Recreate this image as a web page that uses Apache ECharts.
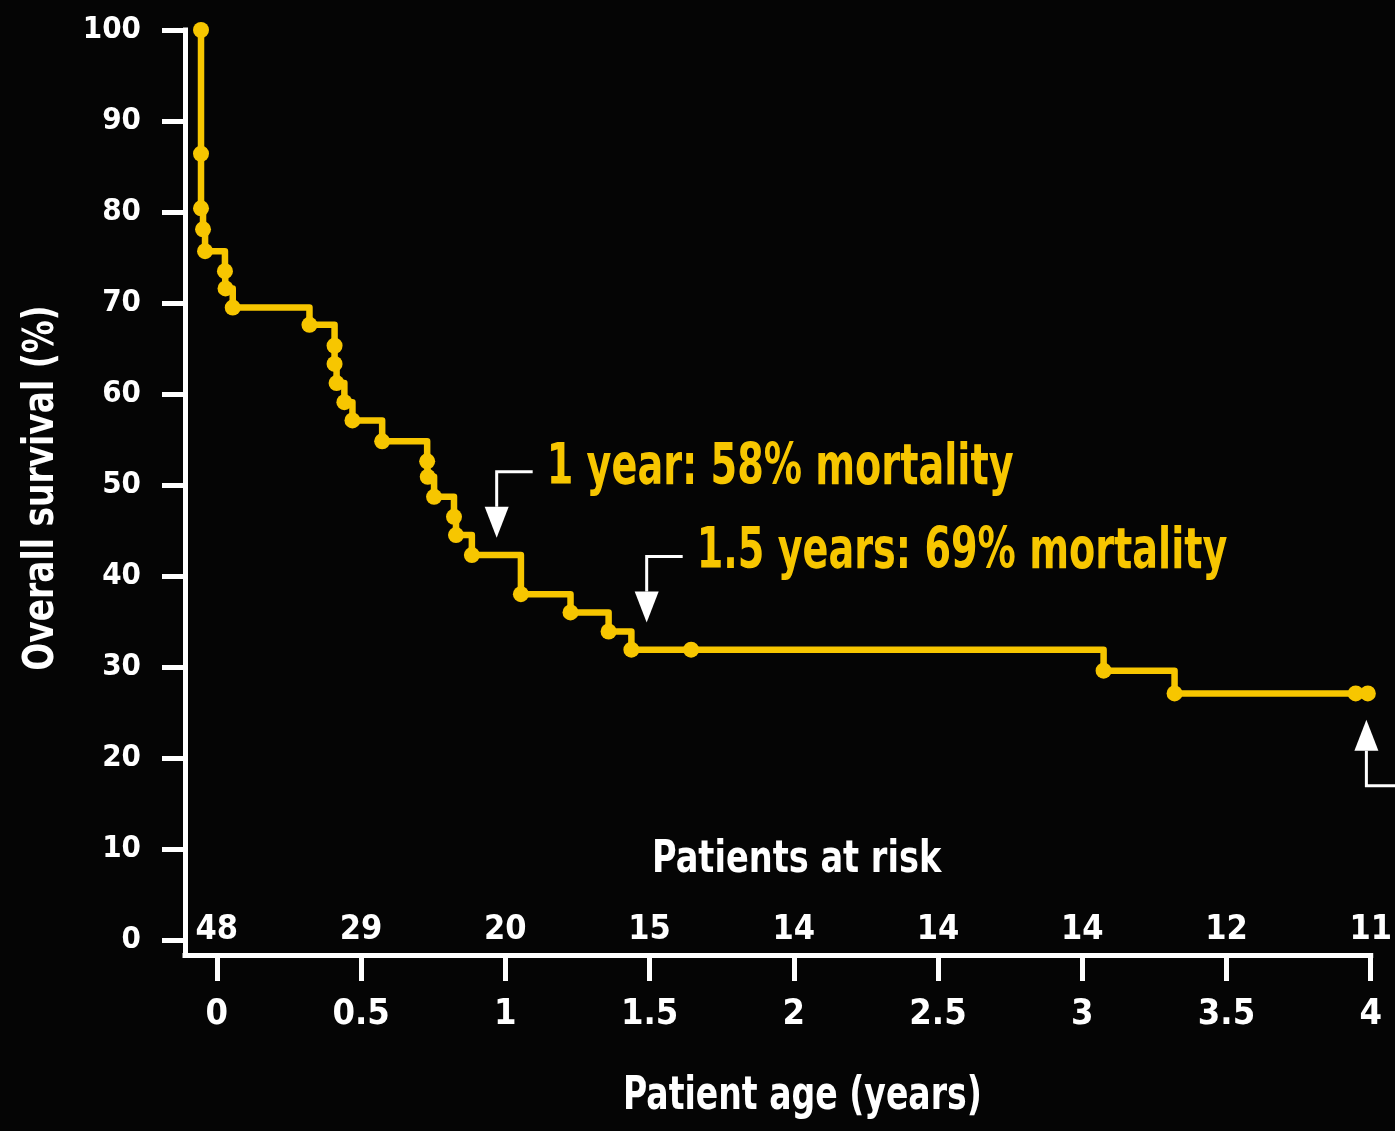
<!DOCTYPE html>
<html>
<head>
<meta charset="utf-8">
<script src="https://cdn.jsdelivr.net/npm/echarts@6/dist/echarts.min.js"></script>
<style>
html, body { margin: 0; padding: 0; background: #050505; }
#main { width: 1395px; height: 1131px; }
</style>
</head>
<body>
<div id="main"></div>
<script>
// Kaplan-Meier curve: every point is either the foot of a drop (death) or a censor mark
var ageYears = [-0.055, -0.055, -0.055, -0.048, -0.041, 0.028, 0.030, 0.055, 0.321, 0.408,
  0.408, 0.415, 0.442, 0.470, 0.573, 0.729, 0.731, 0.753, 0.822, 0.829,
  0.884, 1.054, 1.226, 1.358, 1.437, 1.644, 3.074, 3.320, 3.948, 3.990]
var survival = [100, 86.4, 80.4, 78.1, 75.7, 73.5, 71.6, 69.5, 67.6, 65.3,
  63.3, 61.2, 59.1, 57.1, 54.8, 52.6, 50.9, 48.7, 46.5, 44.5,
  42.3, 38.0, 36.0, 33.9, 31.9, 31.9, 29.6, 27.1, 27.1, 27.1]

var xTicks = [0, 0.5, 1, 1.5, 2, 2.5, 3, 3.5, 4]
var atRisk = [48, 29, 20, 15, 14, 14, 14, 12, 11]
var yTicks = [0, 10, 20, 30, 40, 50, 60, 70, 80, 90, 100]

// callouts: arrow tip in data units, direction 1 = pointing down
var noteText = ['1 year: 58% mortality', '1.5 years: 69% mortality', '']
var noteX = [0.97, 1.49, 3.985]
var noteY = [44.2, 34.9, 24.2]
var noteDir = [1, 1, -1]

var YELLOW = '#f7c600'
var WHITE = '#ffffff'
var FONT = '"Liberation Sans Narrow", "DejaVu Sans Condensed", "Roboto", sans-serif'

var chartDom = document.getElementById('main')
var myChart = echarts.init(chartDom)
var option

var points = ageYears.map(function (t, i) { return [t, survival[i]] })

option = {
  backgroundColor: '#050505',
  animation: false,
  grid: { left: 185, right: 20, top: 30, bottom: 176, containLabel: false },
  xAxis: [{
    type: 'value',
    min: -0.1105,
    max: 4,
    position: 'bottom',
    axisLine: { onZero: false, lineStyle: { color: WHITE, width: 5, cap: 'square' } },
    axisTick: { show: true, customValues: xTicks, length: 26, lineStyle: { color: WHITE, width: 5 } },
    axisLabel: {
      customValues: xTicks,
      margin: 42,
      color: WHITE,
      fontFamily: FONT,
      fontWeight: 'bold',
      fontSize: 36,
      hideOverlap: false,
      formatter: function (v) { return String(v) }
    },
    splitLine: { show: false }
  }, {
    // patients at risk, printed just above the axis line
    type: 'value',
    min: -0.1105,
    max: 4,
    position: 'bottom',
    axisLine: { show: false, onZero: false },
    axisTick: { show: false },
    axisLabel: {
      inside: true,
      customValues: xTicks,
      margin: 8,
      color: WHITE,
      fontFamily: FONT,
      fontWeight: 'bold',
      fontSize: 34,
      hideOverlap: false,
      formatter: function (v) {
        var i = xTicks.indexOf(v)
        return i < 0 ? '' : String(atRisk[i])
      }
    },
    splitLine: { show: false }
  }],
  yAxis: {
    type: 'value',
    min: -1.65,
    max: 100,
    axisLine: { onZero: false, lineStyle: { color: WHITE, width: 5, cap: 'square' } },
    axisTick: { show: true, customValues: yTicks, length: 23, lineStyle: { color: WHITE, width: 5 } },
    axisLabel: {
      customValues: yTicks,
      margin: 44,
      color: WHITE,
      fontFamily: FONT,
      fontWeight: 'bold',
      fontSize: 31,
      hideOverlap: false
    },
    splitLine: { show: false }
  },
  series: [{
    type: 'line',
    step: 'end',
    data: points,
    clip: false,
    symbol: 'circle',
    symbolSize: 16,
    showAllSymbol: true,
    lineStyle: { color: YELLOW, width: 6.5, join: 'round' },
    itemStyle: { color: YELLOW },
    z: 5
  }]
}

myChart.setOption(option)

// callouts and free text, placed through the grid's own scales
function px (x, y) { return myChart.convertToPixel({ gridIndex: 0 }, [x, y]) }

var graphics = []
noteX.forEach(function (x, i) {
  var tip = px(x, noteY[i])
  var tx = tip[0]
  var ty = tip[1]
  var d = noteDir[i]
  var headBase = ty - d * 31
  var bracketY = ty - d * 66
  graphics.push({
    type: 'polyline',
    shape: { points: [[tx + 36, bracketY], [tx, bracketY], [tx, headBase]] },
    style: { stroke: WHITE, lineWidth: 3, fill: null },
    z: 10
  })
  graphics.push({
    type: 'polygon',
    shape: { points: [[tx - 12, headBase], [tx + 12, headBase], [tx, ty]] },
    style: { fill: WHITE },
    z: 10
  })
  if (noteText[i]) {
    graphics.push({
      type: 'text',
      x: tx + 50,
      y: bracketY - 3,
      scaleX: 0.745,
      style: {
        text: noteText[i],
        fill: YELLOW,
        font: 'bold 57px ' + FONT,
        verticalAlign: 'middle',
        align: 'left'
      },
      z: 10
    })
  }
})

var riskTitle = px(2.01, 0)
graphics.push({
  type: 'text',
  x: riskTitle[0],
  y: 860,
  scaleX: 0.83,
  style: { text: 'Patients at risk', fill: WHITE, font: 'bold 45px ' + FONT, align: 'center', verticalAlign: 'middle' },
  z: 10
})
var xName = px(2.03, 0)
graphics.push({
  type: 'text',
  x: xName[0],
  y: 1097,
  scaleX: 0.8,
  style: { text: 'Patient age (years)', fill: WHITE, font: 'bold 46px ' + FONT, align: 'center', verticalAlign: 'middle' },
  z: 10
})
var yName = px(0, 50)
graphics.push({
  type: 'text',
  x: 42,
  y: yName[1] + 3,
  rotation: Math.PI / 2,
  scaleX: 0.85,
  style: { text: 'Overall survival (%)', fill: WHITE, font: 'bold 43px ' + FONT, align: 'center', verticalAlign: 'middle' },
  z: 10
})

myChart.setOption({ graphic: graphics })
window.addEventListener('resize', () => myChart.resize())
</script>
</body>
</html>
